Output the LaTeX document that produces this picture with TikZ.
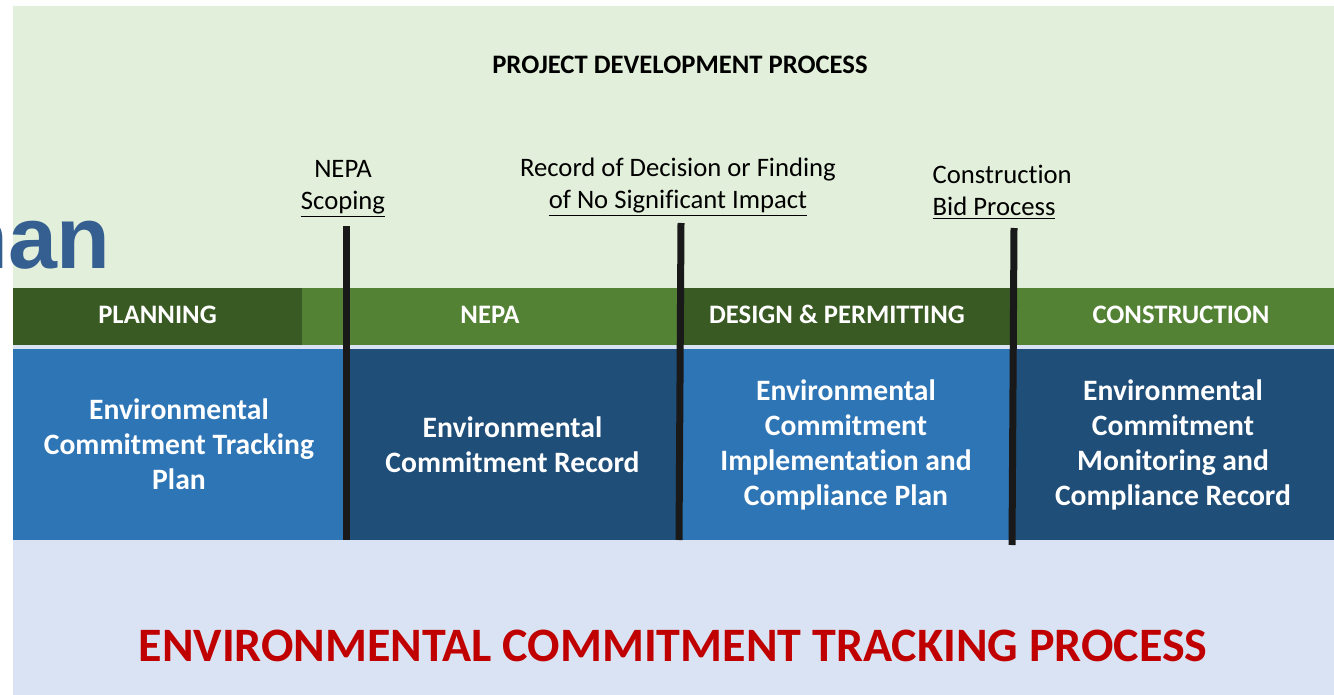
\documentclass[tikz,border=0pt]{standalone}
\usepackage{fontspec}
\setmainfont{Carlito}[Ligatures=NoCommon]
\newfontfamily\headfont{Liberation Sans}

\definecolor{paleGreen}{HTML}{E2EFDA}
\definecolor{deepGreen}{HTML}{3A5A24}
\definecolor{midGreen}{HTML}{548235}
\definecolor{lightBlue}{HTML}{2E75B6}
\definecolor{deepBlue}{HTML}{1F4E79}
\definecolor{paleBlue}{HTML}{DAE3F3}
\definecolor{headBlue}{HTML}{365F91}
\definecolor{trackRed}{HTML}{C00000}

\begin{document}
\begin{tikzpicture}[x=0.75pt,y=-0.75pt,
    phase/.style={text=white,yshift=1.5pt,font=\bfseries\fontsize{20}{22}\selectfont},
    record/.style={text=white,align=center,font=\bfseries\fontsize{22.2}{26.25}\selectfont},
    milestone/.style={align=center,font=\fontsize{20}{24}\selectfont},
    gate/.style={line width=5.25pt,draw=black!90}]
        \useasboundingbox (0,0) rectangle (1334,695);
        % background panels
        \fill [paleGreen] (13,6) rectangle (1334,288);
        \fill [paleBlue] (13,345) rectangle (1334,695);
        \node [anchor=base east,inner sep=0pt,text=headBlue,
            font=\headfont\bfseries\fontsize{66}{66}\selectfont] (heading) at (111,268) {nan};
        \node [font=\bfseries\fontsize{20}{22}\selectfont] (project) at (680,65) {PROJECT DEVELOPMENT PROCESS};
        % phases
        \fill [deepGreen] (13,288) rectangle (302,345) node [midway,phase] (planning) {PLANNING};
        \fill [midGreen] (302,288) rectangle (678,345) node [midway,phase] (nepa) {NEPA};
        \fill [deepGreen] (678,288) rectangle (1012,345) node [midway,phase,xshift=-6] (design) {DESIGN \& PERMITTING};
        \fill [midGreen] (1012,288) rectangle (1334,345) node [midway,phase,xshift=6] (construction) {CONSTRUCTION};
        % commitment records
        \fill [lightBlue] (13,349) rectangle (345,540) node [midway,record] (plan) {Environmental\\Commitment Tracking\\Plan};
        \fill [deepBlue] (345,349) rectangle (680,540) node [midway,record] (record) {Environmental\\Commitment Record};
        \fill [lightBlue] (680,349) rectangle (1012,540) node [midway,record] (implementation) {Environmental\\Commitment\\Implementation and\\Compliance Plan};
        \fill [deepBlue] (1012,349) rectangle (1334,540) node [midway,record] (monitoring) {Environmental\\Commitment\\Monitoring and\\Compliance Record};
        % milestones
        \node [milestone] (scoping) at (343,189) {NEPA\\\underline{Scoping}};
        \node [milestone] (decision) at (678,187) {Record of Decision or Finding\\\underline{of No Significant Impact}};
        \node [milestone,align=left,anchor=west] (bid) at (928,192) {Construction\\\underline{Bid Process}};
        \coordinate (scoping top) at (346,226);
        \coordinate (scoping end) at (346,540);
        \coordinate (decision top) at (681,223);
        \coordinate (decision end) at (679,540);
        \coordinate (bid top) at (1014,228);
        \coordinate (bid end) at (1012,545);
        \draw [gate] (scoping top) -- (scoping end);
        \draw [gate] (decision top) -- (decision end);
        \draw [gate] (bid top) -- (bid end);
        \node [text=trackRed,font=\bfseries\fontsize{36}{40}\selectfont] (tracking) at (673,646)
            {ENVIRONMENTAL COMMITMENT TRACKING PROCESS};
    \end{tikzpicture}
\end{document}
